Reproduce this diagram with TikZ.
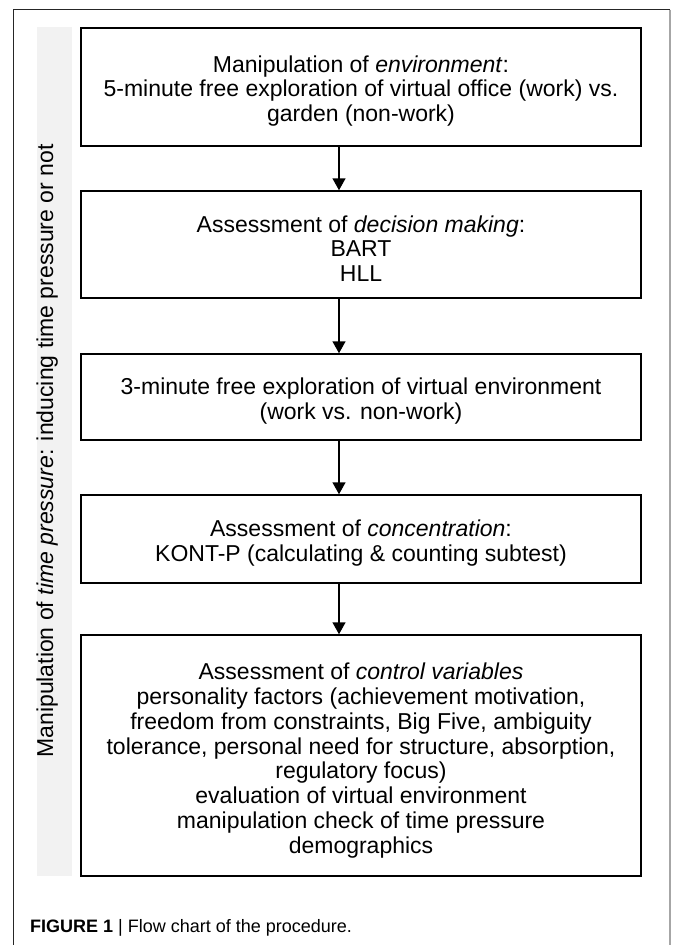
\documentclass[tikz,border=0pt]{standalone}
\usepackage{fontspec}
\setmainfont{Liberation Sans}
\usetikzlibrary{arrows.meta}
\begin{document}
\begin{tikzpicture}[x=1pt,y=-1pt,
  stepbox/.style={draw=black,line width=1.5pt,minimum width=560pt,inner sep=0pt},
  boxtext/.style={align=center,inner sep=0pt,font=\fontsize{23}{24.8}\selectfont},
  flow/.style={line width=1.5pt,-{Triangle[width=13pt,length=12pt]}}]
\useasboundingbox (0,0) rectangle (672,945);
% outer frame
\draw[line width=1pt,black!85] (13,950) -- (13,9.5) -- (670,9.5);
\draw[line width=1.5pt,gray!70] (670,9.5) -- (670,950);
% side bar
\fill[black!5] (37,27) rectangle (72,876);
\node[rotate=90,anchor=base,inner sep=0pt,font=\fontsize{23}{24}\selectfont] (side) at (53,451) {Manipulation of \textit{time pressure}: inducing time pressure or not};
% boxes
\node[stepbox,minimum height=118pt] (b1) at (361,87) {};
\node[stepbox,minimum height=107pt] (b2) at (361,244.5) {};
\node[stepbox,minimum height=86pt] (b3) at (361,397) {};
\node[stepbox,minimum height=88pt] (b4) at (361,539) {};
\node[stepbox,minimum height=241pt] (b5) at (361,755.5) {};
% texts
\node[boxtext] (t1) at ([yshift=-4pt]b1.center) {Manipulation of \textit{environment}:\\5-minute free exploration of virtual office (work) vs.\\garden (non-work)};
\node[boxtext] (t2) at ([yshift=-4pt]b2.center) {Assessment of \textit{decision making}:\\BART\\HLL};
\node[boxtext] (t3) at ([yshift=-4pt]b3.center) {3-minute free exploration of virtual environment\\(work vs. non-work)};
\node[boxtext] (t4) at ([yshift=-4pt]b4.center) {Assessment of \textit{concentration}:\\KONT-P (calculating \& counting subtest)};
\node[boxtext] (t5) at ([yshift=-5pt]b5.center) {Assessment of \textit{control variables}\\personality factors (achievement motivation,\\freedom from constraints, Big Five, ambiguity\\tolerance, personal need for structure, absorption,\\regulatory focus)\\evaluation of virtual environment\\manipulation check of time pressure\\demographics};
% arrows
\draw[flow] (b1.south -| 339,0) -- (b2.north -| 339,0);
\draw[flow] (b2.south -| 339,0) -- (b3.north -| 339,0);
\draw[flow] (b3.south -| 339,0) -- (b4.north -| 339,0);
\draw[flow] (b4.south -| 339,0) -- (b5.north -| 339,0);
% caption
\node[anchor=base west,inner sep=0pt,font=\fontsize{18}{20}\selectfont] (cap) at (30,932) {\textbf{FIGURE 1} | Flow chart of the procedure.};
\end{tikzpicture}
\end{document}
